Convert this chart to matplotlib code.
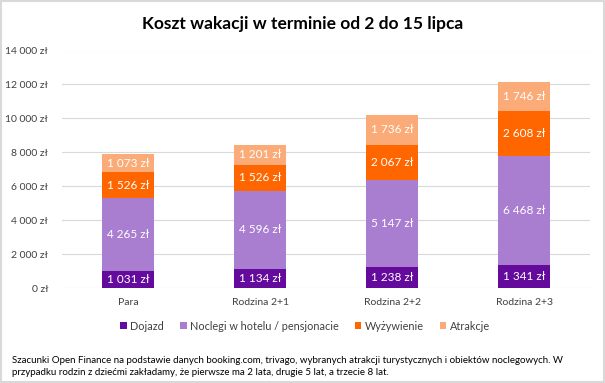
"""Koszt wakacji - stacked bar chart."""
import matplotlib
matplotlib.use("Agg")
import matplotlib.pyplot as plt
from matplotlib.patches import Rectangle
import numpy as np

plt.rcParams["font.family"] = ["Lato", "DejaVu Sans"]

categories = ["Para", "Rodzina 2+1", "Rodzina 2+2", "Rodzina 2+3"]
series_names = ["Dojazd", "Noclegi w hotelu / pensjonacie", "Wyżywienie", "Atrakcje"]
dojazd = [1031, 1134, 1238, 1341]
noclegi = [4265, 4596, 5147, 6468]
wyzywienie = [1526, 1526, 2067, 2608]
atrakcje = [1073, 1201, 1736, 1746]
colors = ["#640a9c", "#a97ed0", "#ff6600", "#fbab78"]
yticks = [0, 2000, 4000, 6000, 8000, 10000, 12000, 14000]

title = "Koszt wakacji w terminie od 2 do 15 lipca"
footnote = ("Szacunki Open Finance na podstawie danych booking.com, trivago, wybranych atrakcji "
            "turystycznych i obiektów noclegowych. W\n"
            "przypadku rodzin z dziećmi zakładamy, że pierwsze ma 2 lata, drugie 5 lat, a trzecie 8 lat.")


def zl(v):
    return f"{v:,.0f}".replace(",", " ") + " zł"


fig = plt.figure(figsize=(6.05, 3.83), dpi=100)
ax = fig.add_axes([62 / 605, 95 / 383, 528 / 605, 237.5 / 383])

x = np.arange(len(categories))
bottom = np.zeros(len(categories))
for vals, name, col in zip([dojazd, noclegi, wyzywienie, atrakcje], series_names, colors):
    vals = np.array(vals, dtype=float)
    ax.bar(x, vals, 0.40, bottom=bottom, color=col, label=name, zorder=2)
    for xi, b, v in zip(x, bottom, vals):
        ax.text(xi, b + v / 2, zl(v), ha="center", va="center",
                color="white", fontsize=8.5, zorder=3)
    bottom += vals

ax.set_xlim(-0.5, len(categories) - 0.5)
ax.set_ylim(0, 14000)
ax.set_yticks(yticks)
ax.set_yticklabels([zl(v) for v in yticks])
ax.set_xticks(x)
ax.set_xticklabels(categories)
ax.tick_params(axis="both", length=0, labelsize=7.5, colors="#404040")
ax.tick_params(axis="y", pad=10)
ax.tick_params(axis="x", pad=7)
ax.yaxis.grid(True, color="#d9d9d9", linewidth=0.8, zorder=0)
for s in ax.spines.values():
    s.set_visible(False)

fig.text(303 / 605, 1 - 23.5 / 383, title, ha="center", va="center",
         fontsize=12.5, fontweight="bold", color="black")

handles, labels = ax.get_legend_handles_labels()
fig.legend(handles, labels, loc="center", bbox_to_anchor=(305 / 605, 1 - 326 / 383),
           ncol=4, frameon=False, fontsize=7.8, handlelength=0.6, handleheight=0.6,
           handletextpad=0.3, columnspacing=1.5, labelcolor="#404040")

fig.text(12 / 605, 1 - 366.5 / 383, footnote, ha="left", va="center",
         fontsize=7.0, color="black", linespacing=1.3)

fig.patches.append(Rectangle((0.001, 0.002), 0.997, 0.995, transform=fig.transFigure,
                             fill=False, edgecolor="#d9d9d9", linewidth=1.5))

fig.savefig("out.png", dpi=100)
